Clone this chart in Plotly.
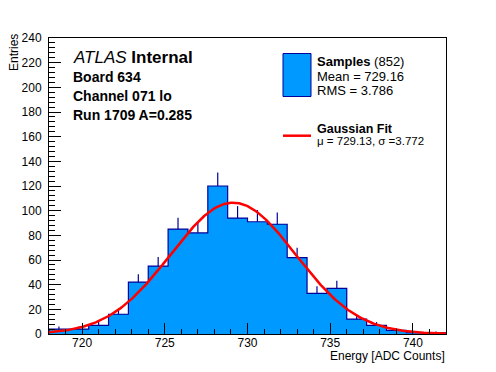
import numpy as np
import plotly.graph_objects as go

# ---- data ----
bin_low = 718.0
bin_width = 1.2
counts = [4, 4, 7, 16, 42, 55, 85, 82, 120, 94, 91, 89, 62, 33, 37, 12, 7, 3, 1, 1]
n_entries = 852
mean_val = 729.16
rms_val = 3.786
fit_mu = 729.13
fit_sigma = 3.772
fit_amp = 106.5
x_ticks = [720, 725, 730, 735, 740]
y_ticks = list(range(0, 241, 20))

W, H = 496, 372
L, R, T, B = 49, 446, 38, 334  # plot area in pixels

FILL = "#0099FF"
EDGE = "#000099"
FONT = "Liberation Sans, Arial, Helvetica, sans-serif"

edges = [bin_low + i * bin_width for i in range(len(counts) + 1)]
centers = [bin_low + (i + 0.5) * bin_width for i in range(len(counts))]
errs = [float(np.sqrt(c)) for c in counts]

fig = go.Figure()
fig.add_trace(go.Bar(x=centers, y=counts, width=bin_width,
                     marker=dict(color=FILL, line=dict(width=0)),
                     showlegend=False, hoverinfo="skip"))
fig.add_trace(go.Scatter(x=[edges[0]] + edges, y=[0] + counts + [counts[-1]],
                         mode="lines", line=dict(color=EDGE, width=1.2, shape="hv"),
                         showlegend=False, hoverinfo="skip"))
fig.add_trace(go.Scatter(x=centers, y=counts, mode="markers",
                         marker=dict(size=1, opacity=0),
                         error_y=dict(type="data", symmetric=False, array=errs,
                                      arrayminus=[0] * len(counts), width=0,
                                      thickness=1.2, color=EDGE),
                         showlegend=False, hoverinfo="skip"))
xf = np.linspace(edges[0], edges[-1], 400)
yf = fit_amp * np.exp(-0.5 * ((xf - fit_mu) / fit_sigma) ** 2)
fig.add_trace(go.Scatter(x=xf, y=yf, mode="lines",
                         line=dict(color="#FF0000", width=2.5),
                         showlegend=False, hoverinfo="skip"))


def px(x):
    return (x - L) / (R - L)


def py(y):
    return (B - y) / (B - T)


annots = []


def txt(x, y, s, size, xanchor="left", yanchor="middle", angle=0):
    annots.append(dict(x=px(x), y=py(y), xref="paper", yref="paper", text=s,
                       showarrow=False, xanchor=xanchor, yanchor=yanchor,
                       textangle=angle, borderpad=0,
                       font=dict(family=FONT, size=size, color="black")))


txt(72, 58, "<i>ATLAS</i> <b>Internal</b>", 17)
txt(72, 77, "<b>Board 634</b>", 14)
txt(72, 96, "<b>Channel 071 lo</b>", 14)
txt(72, 115, "<b>Run 1709 A=0.285</b>", 14)

txt(316, 62, f"<b>Samples</b> ({n_entries})", 13)
txt(316, 76, f"Mean = {mean_val:.2f}", 13)
txt(316, 90, f"RMS = {rms_val:.3f}", 13)
txt(316, 128.5, "<b>Gaussian Fit</b>", 12.5)
txt(316, 141, f"\u03bc = {fit_mu:.2f}, \u03c3 ={fit_sigma:.3f}", 11.5)

txt(446, 356, "Energy [ADC Counts]", 12, xanchor="right")
txt(14, 53, "Entries", 12, xanchor="center", angle=-90)

shapes = [
    dict(type="rect", xref="paper", yref="paper", x0=px(283), x1=px(311), y0=py(53.5), y1=py(96.5),
         fillcolor=FILL, line=dict(color=EDGE, width=1)),
    dict(type="line", xref="paper", yref="paper", x0=px(283), x1=px(311), y0=py(135.7), y1=py(135.7),
         line=dict(color="#FF0000", width=2.5)),
]

fig.update_layout(
    width=W, height=H,
    margin=dict(l=L, r=W - R, t=T, b=H - B, pad=0),
    paper_bgcolor="white", plot_bgcolor="white",
    annotations=annots, shapes=shapes,
    font=dict(family=FONT, size=12, color="black"),
    showlegend=False,
    xaxis=dict(range=[edges[0], edges[-1]], tickvals=x_ticks, ticks="inside", ticklen=11,
               tickcolor="black", tickwidth=1, showline=True, linecolor="black", linewidth=1,
               mirror=True, showgrid=False, zeroline=False,
               minor=dict(dtick=1, ticks="inside", ticklen=5, tickcolor="black", showgrid=False),
               tickfont=dict(family=FONT, size=12), ticklabelstandoff=-2),
    yaxis=dict(range=[0, 240], tickvals=y_ticks, ticks="inside", ticklen=12,
               tickcolor="black", tickwidth=1, showline=True, linecolor="black", linewidth=1,
               mirror=True, showgrid=False, zeroline=False,
               minor=dict(dtick=4, ticks="inside", ticklen=6, tickcolor="black", showgrid=False),
               tickfont=dict(family=FONT, size=12), ticklabelstandoff=4),
    bargap=0,
)

fig.write_html("out.html", post_script="document.body.style.margin='0';",
               config={"displayModeBar": False})
